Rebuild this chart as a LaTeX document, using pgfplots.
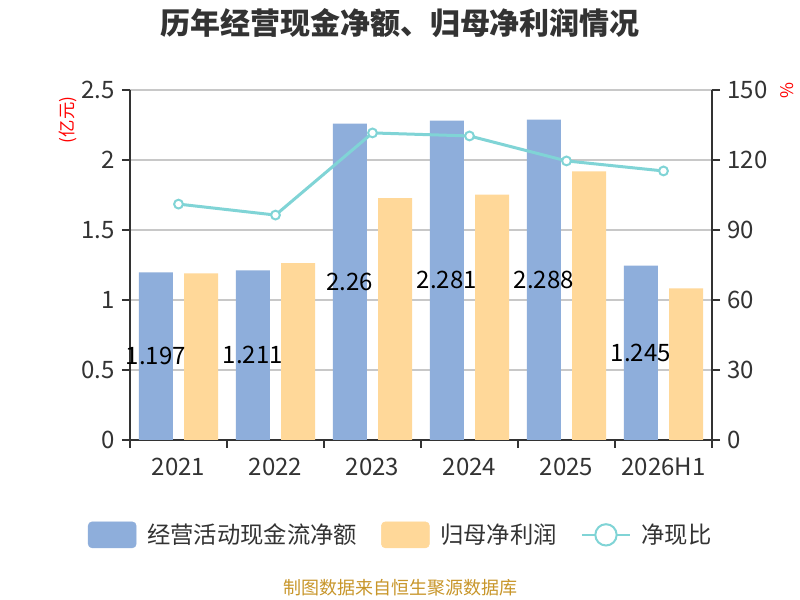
\documentclass[border=0pt]{standalone}
\usepackage{fontspec}
\setmainfont{Noto Sans CJK SC}
\usepackage{pgfplots}
\pgfplotsset{compat=1.18}
\usepackage{pgfplotstable}
\definecolor{cblue}{HTML}{8EAEDB}
\definecolor{corange}{HTML}{FFD899}
\definecolor{cline}{HTML}{80D4D6}
\definecolor{tgray}{HTML}{333333}
\definecolor{gridc}{HTML}{C8C8C8}
\definecolor{foot}{HTML}{C8962A}
\pgfplotstableread{
x cash profit ratio lab
0 1.197 1.190 101.1 1.197
1 1.211 1.264 96.4 1.211
2 2.260 1.727 131.6 2.26
3 2.281 1.753 130.3 2.281
4 2.288 1.918 119.6 2.288
5 1.245 1.083 115.3 1.245
}\data
\pgfplotsset{
  common/.style={
    at={(97.5pt,120pt)}, anchor=south west,
    scale only axis, width=436.5pt, height=262.5pt,
    xmin=-0.5, xmax=5.5,
    tick align=outside,
    axis line style={-, tgray, line width=1.5pt},
    tick style={tgray, line width=1.5pt},
    ticklabel style={font=\fontsize{18}{21}\selectfont, text=tgray},
    /pgf/number format/assume math mode=true,
    clip=false,
  }
}
\begin{document}
\begin{tikzpicture}
\useasboundingbox (0,0) rectangle (600pt,450pt);
\fill[white] (0,0) rectangle (600pt,450pt);
\begin{axis}[common,
  ymin=0, ymax=2.5,
  ytick={0,0.5,1,1.5,2,2.5},
  yticklabels={0,0.5,1,1.5,2,2.5},
  axis y line*=left, axis x line*=bottom,
  xtick={0,...,5},
  xticklabels={2021,2022,2023,2024,2025,2026H1},
  minor xtick={-0.5,0.5,...,5.5},
  major tick length=6pt, minor tick length=6pt,
  x tick style={draw=none},
  minor x tick style={draw=tgray, line width=1.5pt},
  ymajorgrids, grid style={gridc, line width=1pt},
  xmajorgrids=false,
  yticklabel style={xshift=-2pt},
  xticklabel style={yshift=-4pt},
]
\addplot[ybar, bar width=25.5pt, bar shift=-16.9pt, fill=cblue, draw=none] table[x=x,y=cash]{\data};
\addplot[ybar, bar width=25.5pt, bar shift=16.9pt, fill=corange, draw=none] table[x=x,y=profit]{\data};
\addplot[draw=none, mark=none, nodes near coords, point meta=explicit symbolic,
  every node near coord/.append style={anchor=center, font=\fontsize{18}{21}\selectfont, text=black, xshift=-16.9pt}]
  table[x=x, y expr=\thisrow{cash}/2, meta=lab]{\data};
\end{axis}
\begin{axis}[common,
  ymin=0, ymax=150,
  ytick={0,30,60,90,120,150},
  axis y line*=right, axis x line=none,
  major tick length=6pt,
  yticklabel style={xshift=2pt},
  legend style={at={(0.467,-0.271)}, anchor=center, draw=none, fill=none,
    legend columns=3, font=\fontsize{17.5}{20}\selectfont, text=tgray,
    /tikz/every odd column/.append style={column sep=5pt},
    /tikz/every even column/.append style={column sep=15pt},
    nodes={inner sep=3pt}},
]
\addlegendimage{legend image code/.code={\fill[cblue, rounded corners=3pt] (0pt,-9.75pt) rectangle (36pt,9.75pt);}}
\addlegendentry{经营活动现金流净额}
\addlegendimage{legend image code/.code={\fill[corange, rounded corners=3pt] (0pt,-9.75pt) rectangle (36pt,9.75pt);}}
\addlegendentry{归母净利润}
\addplot[cline, line width=2.25pt, mark=*, mark size=3.3pt,
  mark options={fill=white, draw=cline, line width=1.5pt},
  legend image code/.code={\draw[cline, line width=1.5pt] (0pt,0pt)--(36pt,0pt); \draw[cline, fill=white, line width=1.5pt] (18pt,0pt) circle (8pt);}]
  table[x=x,y=ratio]{\data};
\addlegendentry{净现比}
\end{axis}
\node[font=\bfseries\fontsize{22.5}{26}\selectfont, text=tgray] at (300pt,433pt) {历年经营现金净额、归母净利润情况};
\node[rotate=90, anchor=east, font=\fontsize{13}{15}\selectfont, text=red] at (51pt,381pt) {(亿元)};
\node[rotate=90, font=\fontsize{13}{15}\selectfont, text=red] at (590pt,382pt) {\%};
\node[font=\fontsize{13.5}{16}\selectfont, text=foot] at (300pt,9pt) {制图数据来自恒生聚源数据库};
\end{tikzpicture}
\end{document}
